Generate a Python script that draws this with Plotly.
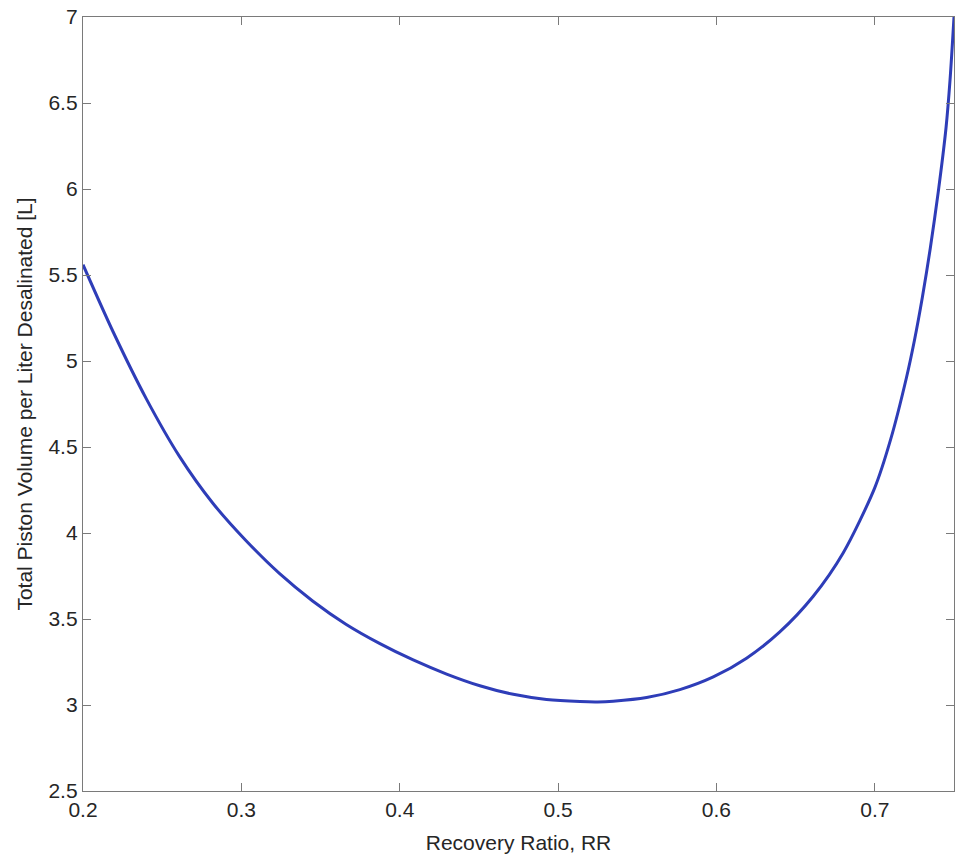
import plotly.graph_objects as go

# Data
recovery_ratio = [0.200, 0.219, 0.240, 0.261, 0.282, 0.303, 0.324, 0.345, 0.366, 0.3875,
                  0.4085, 0.4296, 0.4506, 0.4717, 0.4927, 0.5138, 0.525, 0.5348, 0.5559, 0.5769,
                  0.598, 0.619, 0.640, 0.661, 0.680, 0.700, 0.710, 0.720, 0.725, 0.730,
                  0.735, 0.740, 0.745, 0.7475, 0.750]
piston_volume = [5.56, 5.17, 4.78, 4.444, 4.173, 3.955, 3.765, 3.605, 3.47, 3.357,
                 3.262, 3.18, 3.112, 3.062, 3.032, 3.02, 3.018, 3.022, 3.043, 3.089,
                 3.163, 3.272, 3.425, 3.631, 3.884, 4.264, 4.544, 4.904, 5.119, 5.369,
                 5.654, 5.979, 6.359, 6.634, 7.00]

x_ticks = [0.2, 0.3, 0.4, 0.5, 0.6, 0.7]
y_ticks = [2.5, 3, 3.5, 4, 4.5, 5, 5.5, 6, 6.5, 7]
y_tick_labels = ["2.5", "3", "3.5", "4", "4.5", "5", "5.5", "6", "6.5", "7"]

FONT = "Liberation Sans, Arial, sans-serif"

fig = go.Figure()
fig.add_trace(go.Scatter(
    x=recovery_ratio, y=piston_volume, mode="lines",
    line=dict(color="#2E3DB8", width=3, shape="spline", smoothing=0.8),
    showlegend=False, hoverinfo="skip", cliponaxis=True,
))

axis_common = dict(
    showgrid=False, zeroline=False, showline=True, linecolor="#7a7a7a", linewidth=1.3,
    mirror="allticks", ticks="inside", ticklen=8, tickwidth=1.3, tickcolor="#7a7a7a",
    tickfont=dict(family=FONT, size=21, color="#262626"),
)

fig.update_layout(
    width=956, height=867,
    margin=dict(l=83, r=2, t=17, b=76),
    paper_bgcolor="white", plot_bgcolor="white",
    xaxis=dict(range=[0.2, 0.75], tickvals=x_ticks, ticktext=[str(v) for v in x_ticks],
               title=dict(text="Recovery Ratio, RR", standoff=14,
                          font=dict(family=FONT, size=21, color="#262626")),
               **axis_common),
    yaxis=dict(range=[2.5, 7], tickvals=y_ticks, ticktext=y_tick_labels,
               title=dict(text="Total Piston Volume per Liter Desalinated [L]", standoff=10,
                          font=dict(family=FONT, size=21, color="#262626")),
               **axis_common),
)

fig.write_html("out.html")
